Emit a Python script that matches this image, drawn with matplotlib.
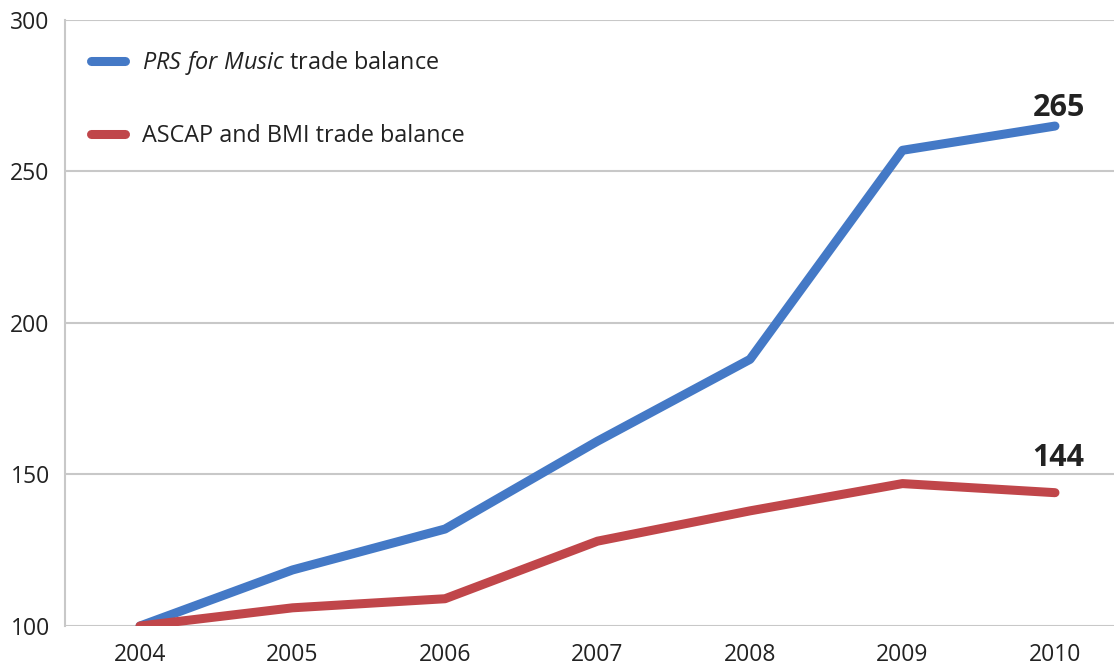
import matplotlib
matplotlib.use("Agg")
import matplotlib.pyplot as plt

years = [2004, 2005, 2006, 2007, 2008, 2009, 2010]
prs = [100, 118.5, 132, 161, 188, 257, 265]
ascap_bmi = [100, 106, 109, 128, 138, 147, 144]
yticks = [100, 150, 200, 250, 300]
labels = [r"$\it{PRS\ for\ Music}$ trade balance", "ASCAP and BMI trade balance"]

plt.rcParams['font.family'] = ['Open Sans', 'DejaVu Sans']
plt.rcParams['mathtext.fontset'] = 'custom'
plt.rcParams['mathtext.it'] = 'Open Sans:italic'
plt.rcParams['mathtext.rm'] = 'Open Sans'

fig = plt.figure(figsize=(11.14, 6.66), dpi=100)
ax = fig.add_axes([65/1114, 40/666, 1 - 65/1114, 606/666])

blue = '#4479c6'
red = '#c0464a'
ax.plot(years, prs, color=blue, lw=6.5, solid_capstyle='round', solid_joinstyle='round', label=labels[0], zorder=3)
ax.plot(years, ascap_bmi, color=red, lw=6.5, solid_capstyle='round', solid_joinstyle='round', label=labels[1], zorder=3)

ax.set_xlim(2003.508, 2010.387)
ax.set_ylim(100, 300)
ax.set_yticks(yticks)
ax.set_xticks(years)
ax.yaxis.grid(True, color='#c8c8c8', lw=1.5)
ax.set_axisbelow(True)
for s in ['top', 'right', 'bottom']:
    ax.spines[s].set_visible(False)
ax.spines['left'].set_color('#c8c8c8')
ax.spines['left'].set_linewidth(1.5)
ax.tick_params(axis='both', length=0, labelsize=16.5, colors='#222222')
ax.tick_params(axis='y', pad=11)
ax.tick_params(axis='x', pad=12)

ax.annotate(f"{prs[-1]:g}", (years[-1], prs[-1]), xytext=(3, 2), textcoords='offset points',
            ha='center', va='bottom', fontsize=22, fontweight='bold', color='#222222')
ax.annotate(f"{ascap_bmi[-1]:g}", (years[-1], ascap_bmi[-1]), xytext=(2, 14), textcoords='offset points',
            ha='center', va='bottom', fontsize=22, fontweight='bold', color='#222222')

leg = ax.legend(loc='upper left', bbox_to_anchor=(0.005, 0.986), frameon=False, fontsize=16.8,
                handlelength=1.46, handletextpad=0.73, labelspacing=1.98)
for t in leg.get_texts():
    t.set_color('#222222')

fig.savefig('out.png', dpi=100)
